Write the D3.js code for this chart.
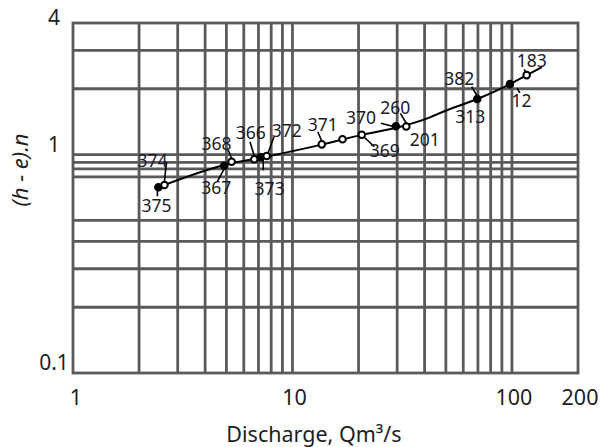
<!DOCTYPE html>
<html><head><meta charset="utf-8">
<script src="https://cdn.jsdelivr.net/npm/d3@7"></script>
<style>
html,body{margin:0;padding:0;background:#fff;}
svg{display:block;}
</style></head>
<body>
<svg id="c" width="602" height="447"></svg>
<script>
// ---- data ----
const xTickValues = [1, 10, 100, 200];
const xTickLabels = ["1", "10", "100", "200"];
const yTickValues = [0.1, 1, 4];
const yTickLabels = ["0.1", "1", "4"];
const xGridValues = [2, 3, 4, 5, 6, 7, 8, 9, 10, 20, 30, 40, 50, 60, 70, 80, 90, 100];
const yGridValues = [0.2, 0.3, 0.4, 0.5, 0.79, 0.86, 0.92, 1, 2, 3];

// observed gaugings
const pointQ = [2.45, 2.61, 4.89, 5.28, 6.70, 7.16, 7.63, 13.6, 16.9, 20.7, 29.6, 33.0, 69.5, 97.9, 116.7];
const pointH = [0.708, 0.725, 0.889, 0.927, 0.951, 0.971, 0.984, 1.113, 1.174, 1.232, 1.348, 1.343, 1.795, 2.10, 2.31];
const pointType = ["solid","open","solid","open","open","solid","open","open","open","open","solid","open","solid","solid","open"];

// rating curve
const curveQ = [2.45, 4.9, 7.5, 13.6, 20.7, 31, 42.3, 48.6, 69.5, 98, 117, 137];
const curveH = [0.708, 0.895, 0.975, 1.11, 1.23, 1.34, 1.48, 1.57, 1.795, 2.10, 2.31, 2.51];

// station labels: text and index of gauging they belong to
const labelText  = ["375","374","367","368","366","373","372","371","369","370","260","201","382","313","12","183"];
const labelPoint = [0, 1, 2, 3, 4, 5, 6, 7, 9, 10, 11, 11, 12, 12, 13, 14];

// ---- layout (pixel offsets of label centre/baseline and leader from the point) ----
const labelLayout = [
  {dx:-2,  dy:25,  l:[-1,3,-1,9]},
  {dx:-12, dy:-18, l:[2,-23,0,-3.5]},
  {dx:-8,  dy:28,  l:[0,3,-7,16]},
  {dx:-15, dy:-12, l:[-3.4,-12,0,-3.3]},
  {dx:-3.6,dy:-20, l:[-4.3,-17.6,0,-3.3]},
  {dx:9,   dy:38,  l:[2.6,-4,2.6,13]},
  {dx:20,  dy:-19, l:[7.3,-19.3,1.5,-3.3]},
  {dx:1,   dy:-13, l:[-4,-12.6,0,-3.3]},
  {dx:23,  dy:22,  l:[2.5,2.5,12.6,12]},
  {dx:-35, dy:-2,  l:[-15,-3,-3.5,0]},
  {dx:-11, dy:-12.5,l:[-5.8,-13.2,0,-3.3]},
  {dx:18.5,dy:19.5,l:null},
  {dx:-18, dy:-14, l:[-5.6,-12.3,0,-3]},
  {dx:-7,  dy:23.7,l:null},
  {dx:11.7,dy:22.7,l:[7.3,4.3,10,8.7]},
  {dx:5,   dy:-8.3,l:[-2.4,-5.7,-0.8,-3]}
];

const svg = d3.select("#c");
const x = d3.scaleLog().domain([1, 200]).range([73, 578]);
const y = d3.scaleLog().domain([0.1, 4]).range([373, 23]);
const gridColor = "#5a5a5a";
const gw = 2.8;

// grid
svg.append("g").selectAll("line").data(xGridValues).join("line")
  .attr("x1", d => x(d)).attr("x2", d => x(d))
  .attr("y1", y(0.1)).attr("y2", y(4))
  .attr("stroke", gridColor).attr("stroke-width", gw);
svg.append("g").selectAll("line").data(yGridValues).join("line")
  .attr("y1", d => y(d)).attr("y2", d => y(d))
  .attr("x1", x(1)).attr("x2", x(200))
  .attr("stroke", gridColor).attr("stroke-width", gw);
svg.append("rect")
  .attr("x", x(1)).attr("y", y(4))
  .attr("width", x(200) - x(1)).attr("height", y(0.1) - y(4))
  .attr("fill", "none").attr("stroke", gridColor).attr("stroke-width", gw);

// tick labels
const tickFont = "'Noto Sans', 'Open Sans', sans-serif";
svg.append("g").selectAll("text").data(xTickValues).join("text")
  .attr("x", d => x(d) + (d === 1 ? 3 : 2)).attr("y", 405)
  .attr("text-anchor", "middle")
  .attr("font-family", tickFont).attr("font-size", 21.5).attr("fill", "#1e1e1e")
  .text((d, i) => xTickLabels[i]);
svg.append("g").selectAll("text").data(yTickValues).join("text")
  .attr("x", 54).attr("y", d => d === 4 ? y(d) + 2 : y(d) - 3)
  .attr("text-anchor", "middle")
  .attr("font-family", tickFont).attr("font-size", 21).attr("fill", "#1e1e1e")
  .text((d, i) => yTickLabels[i]);

// axis titles
svg.append("text")
  .attr("x", 314).attr("y", 442).attr("text-anchor", "middle")
  .attr("font-family", tickFont).attr("font-size", 21.5).attr("fill", "#1e1e1e")
  .text("Discharge, Qm³/s");
svg.append("text")
  .attr("transform", "translate(28,170) rotate(-90)")
  .attr("text-anchor", "middle")
  .attr("font-family", tickFont).attr("font-size", 22).attr("font-style", "italic").attr("fill", "#1e1e1e")
  .text("(h − e).n");

// rating curve
const line = d3.line().x(d => x(d[0])).y(d => y(d[1])).curve(d3.curveMonotoneX);
svg.append("path")
  .datum(curveQ.map((q, i) => [q, curveH[i]]))
  .attr("d", line).attr("fill", "none").attr("stroke", "#000").attr("stroke-width", 2);

// leaders and labels
const labFont = "'Liberation Sans Narrow', 'Noto Sans', sans-serif";
const lg = svg.append("g");
labelText.forEach((t, i) => {
  const p = labelPoint[i];
  const px = x(pointQ[p]), py = y(pointH[p]);
  const L = labelLayout[i];
  if (L.l) {
    lg.append("line")
      .attr("x1", px + L.l[0]).attr("y1", py + L.l[1])
      .attr("x2", px + L.l[2]).attr("y2", py + L.l[3])
      .attr("stroke", "#000").attr("stroke-width", 1.6);
  }
  lg.append("text")
    .attr("x", px + L.dx).attr("y", py + L.dy)
    .attr("text-anchor", "middle")
    .attr("font-family", labFont).attr("font-size", 17.5).attr("fill", "#1a1a28")
    .text(t);
});

// gauging points
svg.append("g").selectAll("circle").data(pointQ).join("circle")
  .attr("cx", d => x(d)).attr("cy", (d, i) => y(pointH[i]))
  .attr("r", 3.3)
  .attr("fill", (d, i) => pointType[i] === "solid" ? "#000" : "#fff")
  .attr("stroke", "#000").attr("stroke-width", 2);
</script>
</body></html>
